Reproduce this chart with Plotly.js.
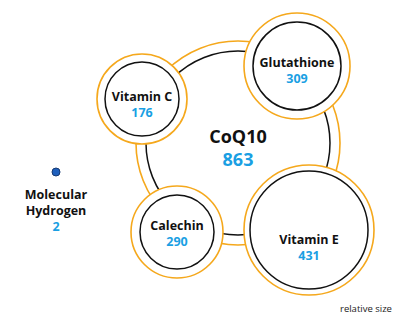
<!DOCTYPE html>
<html>
<head>
<meta charset="utf-8">
<script src="https://cdn.plot.ly/plotly-3.0.1.min.js"></script>
<style>html,body{margin:0;padding:0;background:#fff;}#chart{width:420px;height:315px;}</style>
</head>
<body>
<div id="chart"></div>
<script>
// Data
const names = ["CoQ10", "Glutathione", "Vitamin C", "Calechin", "Vitamin E", "Molecular<br>Hydrogen"];
const values = [863, 309, 176, 290, 431, 2];

// Layout of the packed bubbles (pixel-like layout coordinates, not data)
const posX = [238, 297, 142, 177, 309, 56];
const posY = [143, 66, 99, 232, 230, 172];
const innerDiam = [184, 88, 74, 74, 118, 8];
const outerDiam = [204, 106, 90, 92, 130, 0];

const ORANGE = "#f5a81c";
const BLUE = "#1a9fe3";
const FONT = "Open Sans";

const traces = [];
// Big center bubble: orange ring then black ring
traces.push({
  type: "scatter", mode: "markers", hoverinfo: "skip",
  x: [posX[0], posX[0]], y: [posY[0], posY[0]],
  marker: {size: [outerDiam[0], innerDiam[0]], color: "#ffffff", opacity: 1,
           line: {color: [ORANGE, "#111111"], width: [1.6, 1.5]}}
});
const small = [1, 2, 3, 4];
traces.push({
  type: "scatter", mode: "markers", hoverinfo: "skip",
  x: small.map(i => posX[i]), y: small.map(i => posY[i]),
  marker: {size: small.map(i => outerDiam[i]), color: "#ffffff", opacity: 1,
           line: {color: ORANGE, width: 1.6}}
});
traces.push({
  type: "scatter", mode: "markers", hoverinfo: "skip",
  x: small.map(i => posX[i]), y: small.map(i => posY[i]),
  marker: {size: small.map(i => innerDiam[i]), color: "#ffffff", opacity: 1,
           line: {color: "#111111", width: 1.5}}
});
// Molecular hydrogen dot
traces.push({
  type: "scatter", mode: "markers", hoverinfo: "skip",
  x: [posX[5]], y: [posY[5]],
  marker: {size: innerDiam[5], color: "#1f60bd", line: {color: "#173a73", width: 1}}
});
// Labels
const labelDy = [7, 6, 7, 3, 19, 40];
const labelSize = [18, 12.5, 12.5, 12.5, 12.5, 12.5];
names.forEach((n, i) => {
  traces.push({
    type: "scatter", mode: "text", hoverinfo: "skip",
    x: [posX[i]], y: [posY[i] + labelDy[i]],
    text: [n + '<br><span style="color:' + BLUE + '">' + values[i] + '</span>'],
    textposition: "middle center",
    textfont: {family: FONT, size: labelSize[i], color: "#111111", weight: 700}
  });
});

const layout = {
  width: 420, height: 315,
  margin: {l: 0, r: 0, t: 0, b: 0},
  paper_bgcolor: "#ffffff", plot_bgcolor: "#ffffff",
  showlegend: false,
  xaxis: {range: [0, 420], visible: false, fixedrange: true},
  yaxis: {range: [315, 0], visible: false, fixedrange: true},
  annotations: [{
    xref: "paper", yref: "paper", x: 366/420, y: 1 - 308/315,
    xanchor: "center", yanchor: "middle",
    text: "relative size", showarrow: false,
    font: {family: FONT, size: 9.5, color: "#222222"}
  }]
};

Plotly.newPlot("chart", traces, layout, {staticPlot: true, displayModeBar: false});
</script>
</body>
</html>
